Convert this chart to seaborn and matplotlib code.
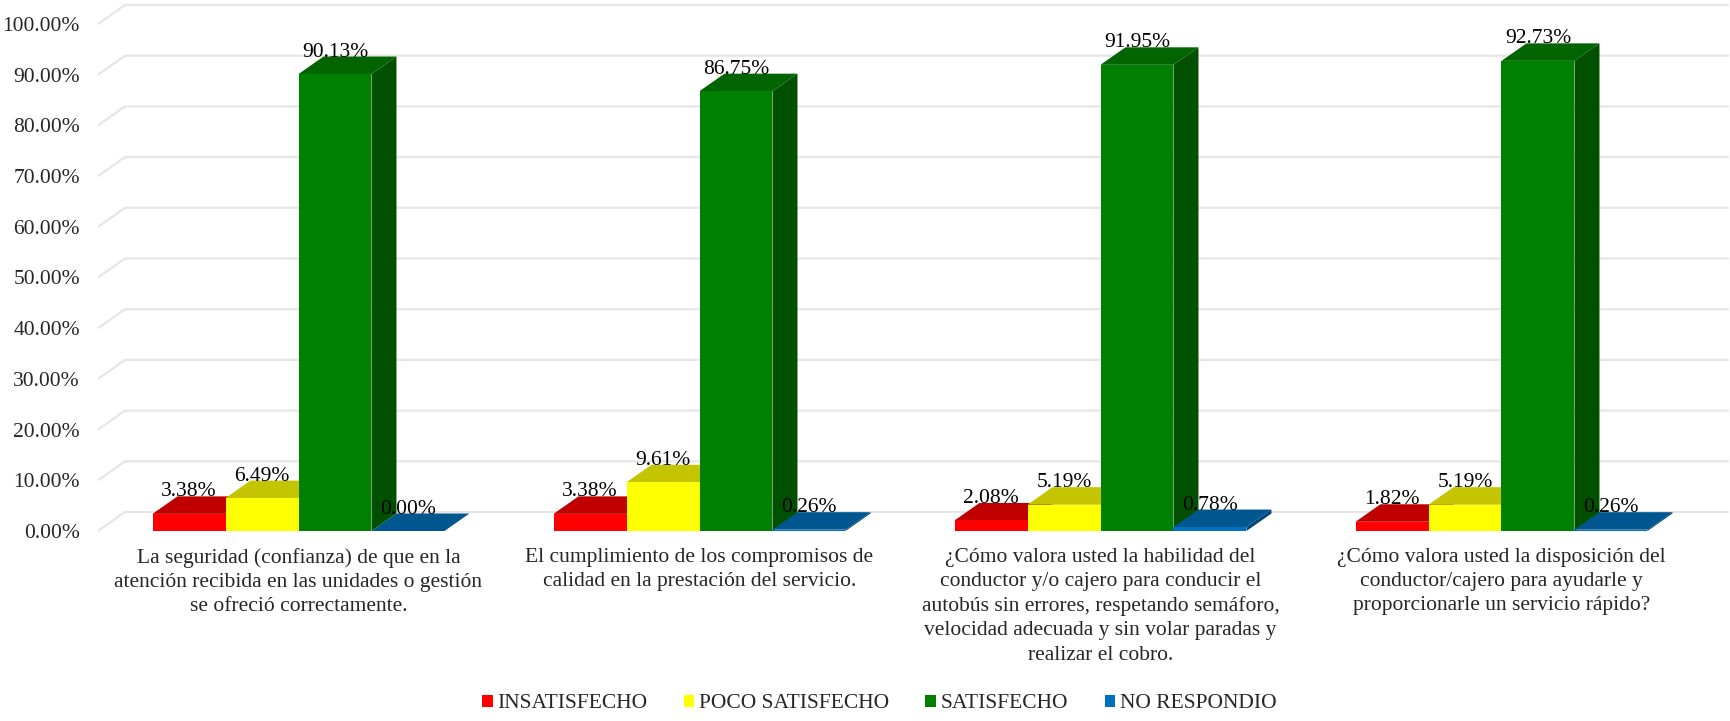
import numpy as np
import pandas as pd
import matplotlib
matplotlib.use("Agg")
import matplotlib.pyplot as plt
from matplotlib.patches import Polygon, Patch
import seaborn as sns

# Survey questions (x categories)
preguntas = [
    "La seguridad (confianza) de que en la\natención recibida en las unidades o gestión\nse ofreció correctamente.",
    "El cumplimiento de los compromisos de\ncalidad en la prestación del servicio.",
    "¿Cómo valora usted la habilidad del\nconductor y/o cajero para conducir el\nautobús sin errores, respetando semáforo,\nvelocidad adecuada y sin volar paradas y\nrealizar el cobro.",
    "¿Cómo valora usted la disposición del\nconductor/cajero para ayudarle y\nproporcionarle un servicio rápido?",
]
series = ["INSATISFECHO", "POCO SATISFECHO", "SATISFECHO", "NO RESPONDIO"]

# Percentages per answer level
insatisfecho = [3.38, 3.38, 2.08, 1.82]
poco_satisfecho = [6.49, 9.61, 5.19, 5.19]
satisfecho = [90.13, 86.75, 91.95, 92.73]
no_respondio = [0.00, 0.26, 0.78, 0.26]

y_ticks = list(range(0, 101, 10))
y_tick_labels = [f"{t:.2f}%" for t in y_ticks]

# Front, top and side shades for the pseudo-3D columns
frente = ["#FF0000", "#FFFF00", "#008000", "#0070C0"]
tapa = ["#C00000", "#C4C400", "#006400", "#00568F"]
lado = ["#A80000", "#A0A000", "#005000", "#004676"]

valores = [insatisfecho, poco_satisfecho, satisfecho, no_respondio]
df = pd.DataFrame({
    "pregunta": [p for _ in series for p in preguntas],
    "serie": [s for s in series for _ in preguntas],
    "valor": [v for vals in valores for v in vals],
})

sns.set_style("white")
plt.rcParams["font.family"] = ["Liberation Serif", "DejaVu Serif"]

W, H = 1731, 721
fig = plt.figure(figsize=(W / 100, H / 100), dpi=100)
ax_left, ax_right, ax_top, ax_bottom = 98, 1702, 24, 531
ax = fig.add_axes([ax_left / W, (H - ax_bottom) / H,
                   (ax_right - ax_left) / W, (ax_bottom - ax_top) / H])

sns.barplot(data=df, x="pregunta", y="valor", hue="serie",
            order=preguntas, hue_order=series, palette=frente,
            width=0.728, saturation=1, errorbar=None, legend=False,
            linewidth=0, ax=ax)

ax.set_xlim(-0.5, 3.5)
ax.set_ylim(0, 100)

# pixel -> data unit conversions
ppx = (ax_right - ax_left) / 4.0
ppy = (ax_bottom - ax_top) / 100.0
dxb, dyb = 25 / ppx, 17.5 / ppy      # column depth
dxf, dyf = 27 / ppx, 19 / ppy        # floor / wall depth

# back-wall gridlines with the short floor diagonal at the left
for t in y_ticks:
    ax.plot([-0.5, -0.5 + dxf, 3.5 + dxf], [t, t + dyf, t + dyf],
            color="#E6E6E6", lw=1.6, clip_on=False, zorder=1,
            solid_capstyle="butt")

# depth faces and value labels
for k, cont in enumerate(ax.containers):
    for p in cont.patches:
        x0, w, h = p.get_x(), p.get_width(), p.get_height()
        p.set_zorder(3 + 3 * k + 2)
        side = Polygon([(x0 + w, 0), (x0 + w + dxb, dyb),
                        (x0 + w + dxb, h + dyb), (x0 + w, h)],
                       closed=True, facecolor=lado[k], edgecolor="none",
                       zorder=3 + 3 * k, clip_on=False)
        top = Polygon([(x0, h), (x0 + dxb, h + dyb),
                       (x0 + w + dxb, h + dyb), (x0 + w, h)],
                      closed=True, facecolor=tapa[k], edgecolor="none",
                      zorder=3 + 3 * k + 1, clip_on=False)
        ax.add_patch(side)
        ax.add_patch(top)
        ax.text(x0 + w / 2, h + dyb, f"{h:.2f}%", ha="center",
                va="baseline", fontsize=15.5, color="#000000", zorder=30,
                clip_on=False)

ax.set_yticks(y_ticks)
ax.set_yticklabels(y_tick_labels, fontsize=15.5)
ax.set_xticks(range(len(preguntas)))
ax.set_xticklabels(preguntas, fontsize=15.5, linespacing=1.37)
ax.tick_params(axis="y", length=0, pad=13)
ax.tick_params(axis="x", length=0, pad=12)
ax.set_xlabel("")
ax.set_ylabel("")
for s in ax.spines.values():
    s.set_visible(False)
ax.grid(False)

handles = [Patch(facecolor=c, edgecolor="none") for c in frente]
fig.legend(handles, series, loc="center", bbox_to_anchor=(879 / W, 1 - 704 / H),
           ncol=4, frameon=False, fontsize=15.5, handlelength=0.5,
           handleheight=0.5, handletextpad=0.2, columnspacing=1.7)

fig.savefig("out.png", dpi=100)
